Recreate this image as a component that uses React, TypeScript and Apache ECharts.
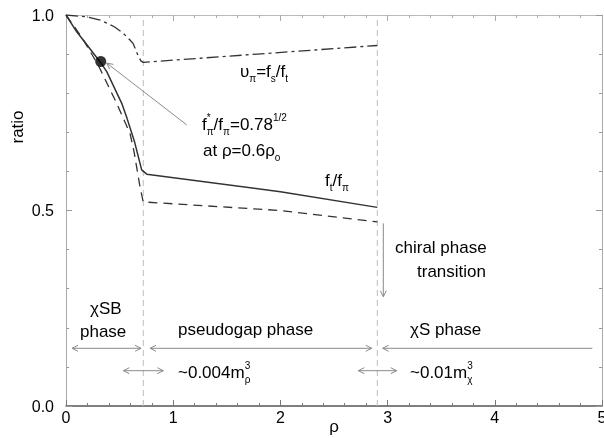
import React, { useEffect, useRef } from "react";
import * as echarts from "echarts";

// f_t / f_pi (solid)
const rhoSolid = [0, 0.1, 0.2, 0.324, 0.38, 0.52, 0.57, 0.64, 0.706, 0.753, 2.0, 2.904];
const ratioSolid = [1.0, 0.957, 0.922, 0.878, 0.855, 0.774, 0.735, 0.675, 0.604, 0.593, 0.548, 0.508];
// dashed curve
const rhoDashed = [0, 0.15, 0.3, 0.473, 0.597, 0.635, 0.69, 0.72, 2.0, 2.904];
const ratioDashed = [1.0, 0.942, 0.872, 0.774, 0.697, 0.65, 0.561, 0.522, 0.5, 0.471];
// v_pi = f_s / f_t (dash-dot)
const rhoVel = [0, 0.2, 0.32, 0.45, 0.535, 0.597, 0.628, 0.674, 0.7, 0.72, 2.904];
const ratioVel = [1.0, 0.995, 0.987, 0.97, 0.953, 0.936, 0.926, 0.895, 0.882, 0.879, 0.922];
// phase boundaries
const boundaries = [0.721, 2.904];
// marked point
const markedPoint = [0.324, 0.881];
// arrows: [x1, y1, x2, y2, headAtStart, headAtEnd]
const arrows = [
  [1.126, 0.719, 0.38, 0.877, 0, 1],
  [2.96, 0.467, 2.96, 0.2795, 0, 1],
  [0.056, 0.1476, 0.7, 0.1476, 1, 1],
  [0.784, 0.1476, 2.852, 0.1476, 1, 1],
  [2.954, 0.1476, 4.91, 0.1476, 1, 0],
  [0.535, 0.0903, 0.908, 0.0903, 1, 1],
  [2.727, 0.0903, 3.085, 0.0903, 1, 1],
];
const xTicks = [0, 1, 2, 3, 4, 5];
const yTicks = [0.0, 0.5, 1.0];

const FONT = "'Liberation Sans', Arial, Helvetica, sans-serif";

const rich = {
  sub: { fontSize: 10, fontFamily: FONT, verticalAlign: "bottom", lineHeight: 10, fill: "#000" },
  sup: { fontSize: 10, fontFamily: FONT, verticalAlign: "top", lineHeight: 10, fill: "#000" },
  sup0: { fontSize: 10, fontFamily: FONT, verticalAlign: "top", lineHeight: 10, width: 0, fill: "#000" },
};

function label(text: string, x: number, y: number, size = 17, align = "left") {
  return {
    type: "text",
    x,
    y,
    style: {
      text,
      fill: "#000",
      fontSize: size,
      fontFamily: FONT,
      verticalAlign: "middle",
      align,
      lineHeight: 24,
      rich,
    },
  };
}

export default function App() {
  const ref = useRef<HTMLDivElement>(null);
  useEffect(() => {
    const chart = echarts.init(ref.current!, null, { renderer: "svg" });
    const zip = (xs: number[], ys: number[]) => xs.map((x, i) => [x, ys[i]]);
    const axisCommon = {
      splitLine: { show: false },
      minorSplitLine: { show: false },
    };
    const arrowColor = "#8a8a8a";
    const option: any = {
      animation: false,
      grid: { left: 66, right: 2, top: 15, bottom: 32, containLabel: false, outerBoundsMode: "none" },
      xAxis: [
        {
          ...axisCommon,
          type: "value",
          min: 0,
          max: 5,
          interval: 1,
          position: "bottom",
          axisLine: { show: true, onZero: false, lineStyle: { color: "#555", width: 1.5 } },
          axisTick: { show: true, inside: true, length: 6, lineStyle: { color: "#777" } },
          minorTick: { show: true, splitNumber: 5, length: 3, lineStyle: { color: "#777" } },
          axisLabel: {
            fontSize: 16,
            fontFamily: FONT,
            color: "#000",
            margin: 3,
            formatter: (v: number) => (xTicks.includes(v) ? String(v) : ""),
          },
        },
        {
          ...axisCommon,
          type: "value",
          min: 0,
          max: 5,
          interval: 1,
          position: "top",
          axisLine: { show: true, onZero: false, lineStyle: { color: "#bbb", width: 1 } },
          axisTick: { show: true, inside: true, length: 6, lineStyle: { color: "#aaa" } },
          minorTick: { show: true, splitNumber: 5, length: 3, lineStyle: { color: "#aaa" } },
          axisLabel: { show: false },
        },
      ],
      yAxis: [
        {
          ...axisCommon,
          type: "value",
          min: 0,
          max: 1,
          interval: 0.5,
          position: "left",
          axisLine: { show: true, onZero: false, lineStyle: { color: "#aaa", width: 1 } },
          axisTick: { show: true, inside: true, length: 6, lineStyle: { color: "#999" } },
          minorTick: { show: true, splitNumber: 5, length: 3, lineStyle: { color: "#999" } },
          axisLabel: {
            fontSize: 16,
            fontFamily: FONT,
            color: "#000",
            margin: 12,
            formatter: (v: number) => (yTicks.some((t) => Math.abs(t - v) < 1e-9) ? v.toFixed(1) : ""),
          },
        },
        {
          ...axisCommon,
          type: "value",
          min: 0,
          max: 1,
          interval: 0.5,
          position: "right",
          axisLine: { show: true, onZero: false, lineStyle: { color: "#aaa", width: 1 } },
          axisTick: { show: true, inside: true, length: 6, lineStyle: { color: "#999" } },
          minorTick: { show: true, splitNumber: 5, length: 3, lineStyle: { color: "#999" } },
          axisLabel: { show: false },
        },
      ],
      series: [
        ...boundaries.map((b) => ({
          type: "line",
          data: [
            [b, 0],
            [b, 1],
          ],
          showSymbol: false,
          silent: true,
          lineStyle: { color: "#bdbdbd", width: 1, type: [6, 4] },
          z: 1,
        })),
        {
          type: "line",
          name: "ft/fpi",
          data: zip(rhoSolid, ratioSolid),
          showSymbol: false,
          lineStyle: { color: "#333", width: 1.5 },
          z: 3,
        },
        {
          type: "line",
          name: "dashed",
          data: zip(rhoDashed, ratioDashed),
          showSymbol: false,
          lineStyle: { color: "#333", width: 1.3, type: [9, 6] },
          z: 3,
        },
        {
          type: "line",
          name: "vpi",
          data: zip(rhoVel, ratioVel),
          showSymbol: false,
          lineStyle: { color: "#333", width: 1.3, type: [12, 4, 3, 4] },
          z: 3,
        },
        {
          type: "scatter",
          data: [markedPoint],
          symbolSize: 11,
          itemStyle: { color: "#000" },
          z: 5,
        },
        {
          type: "custom",
          data: arrows,
          clip: false,
          silent: true,
          z: 4,
          encode: { x: [0, 2], y: [1, 3] },
          renderItem: (_params: any, api: any) => {
            const a = api.coord([api.value(0), api.value(1)]);
            const b = api.coord([api.value(2), api.value(3)]);
            const hs = api.value(4);
            const he = api.value(5);
            const dx = b[0] - a[0];
            const dy = b[1] - a[1];
            const len = Math.hypot(dx, dy) || 1;
            const ux = dx / len;
            const uy = dy / len;
            const nx = -uy;
            const ny = ux;
            const L = 6;
            const W = 3;
            const style = { stroke: arrowColor, fill: "none", lineWidth: 1 };
            const children: any[] = [
              { type: "line", shape: { x1: a[0], y1: a[1], x2: b[0], y2: b[1] }, style },
            ];
            if (he) {
              children.push({
                type: "polyline",
                shape: {
                  points: [
                    [b[0] - ux * L + nx * W, b[1] - uy * L + ny * W],
                    [b[0], b[1]],
                    [b[0] - ux * L - nx * W, b[1] - uy * L - ny * W],
                  ],
                },
                style,
              });
            }
            if (hs) {
              children.push({
                type: "polyline",
                shape: {
                  points: [
                    [a[0] + ux * L + nx * W, a[1] + uy * L + ny * W],
                    [a[0], a[1]],
                    [a[0] + ux * L - nx * W, a[1] + uy * L - ny * W],
                  ],
                },
                style,
              });
            }
            return { type: "group", children };
          },
        },
      ],
      graphic: [
        label("υ{sub|π}=f{sub|s}/f{sub|t}", 240, 71),
        label("f{sup0|*}{sub|π}/f{sub|π}=0.78{sup|1/2}", 202, 124),
        label("at ρ=0.6ρ{sub|o}", 203, 150),
        label("f{sub|t}/f{sub|π}", 325, 180),
        label("chiral phase", 395, 247),
        label("transition", 417, 271),
        label("χSB", 90, 308),
        label("phase", 80, 331),
        label("pseudogap phase", 178, 329),
        label("χS phase", 410, 329),
        label("~0.004m{sup0|3}{sub|ρ}", 178, 372),
        label("~0.01m{sup0|3}{sub|χ}", 410, 372),
        label("ρ", 334, 426, 17, "center"),
        {
          type: "text",
          x: 17,
          y: 127,
          rotation: Math.PI / 2,
          style: {
            text: "ratio",
            fill: "#000",
            fontSize: 17,
            fontFamily: FONT,
            align: "center",
            verticalAlign: "middle",
          },
        },
      ],
    };
    chart.setOption(option);
    return () => chart.dispose();
  }, []);
  return <div ref={ref} style={{ position: "fixed", left: 0, top: 0, width: 604, height: 438 }} />;
}
